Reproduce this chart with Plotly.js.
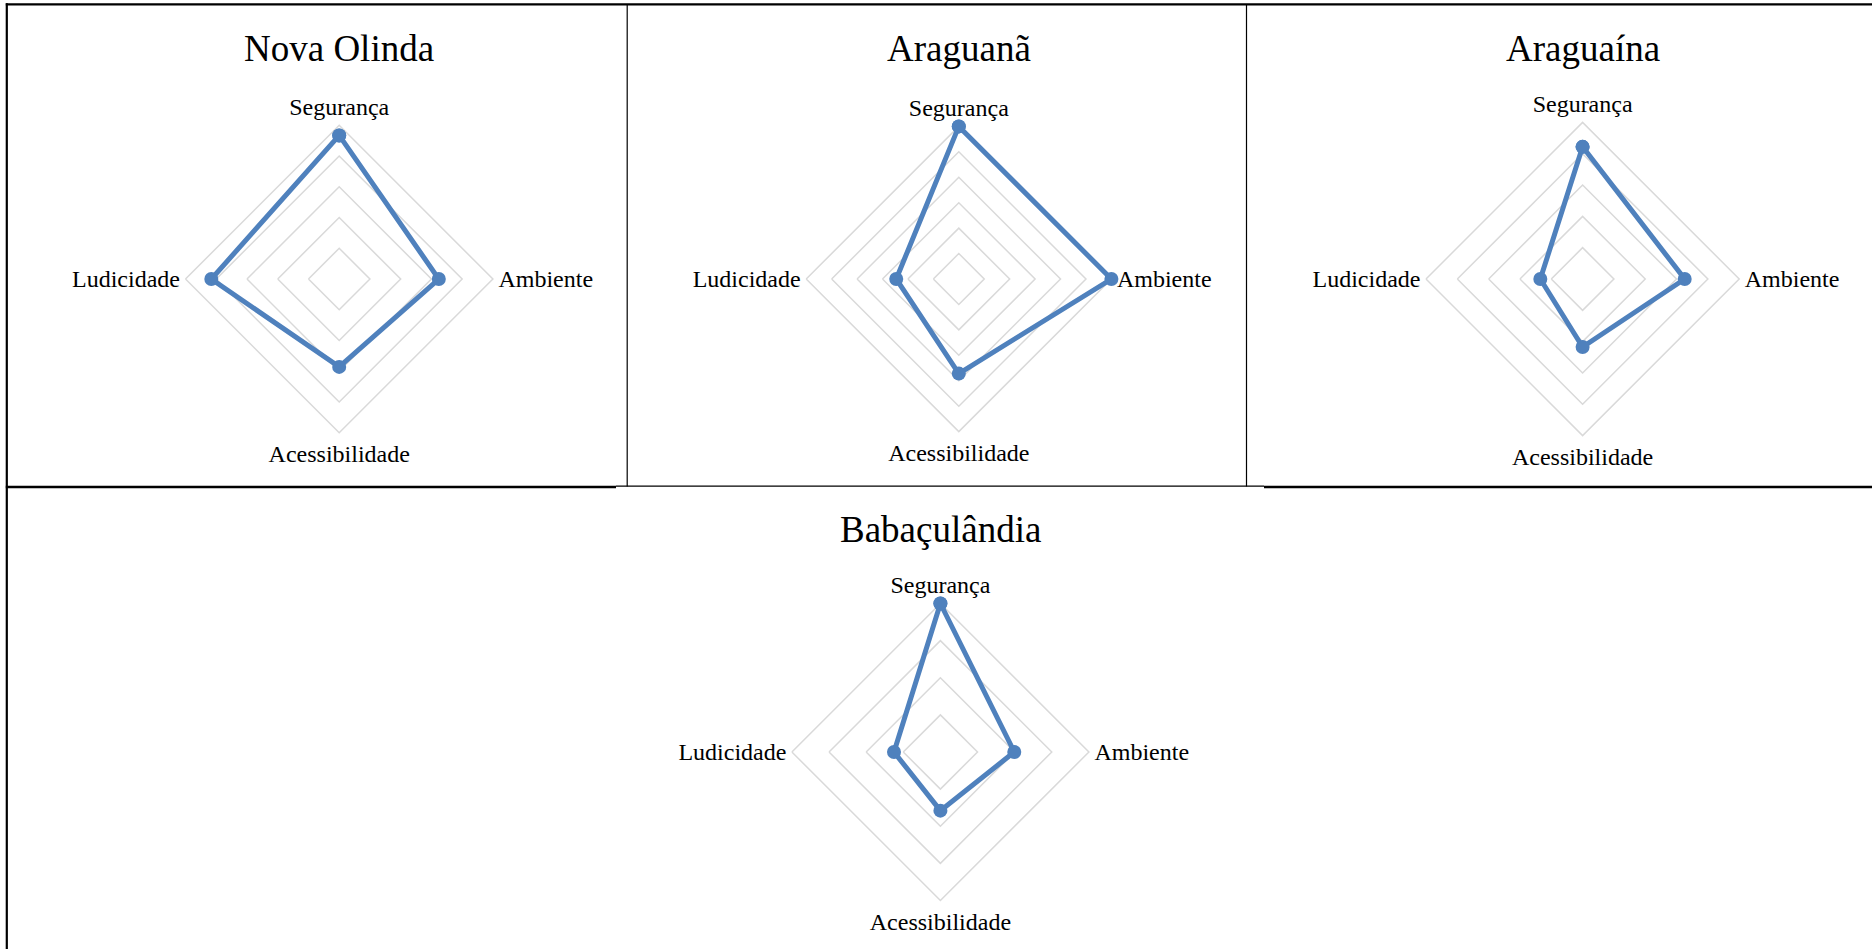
<!DOCTYPE html>
<html>
<head>
<meta charset="utf-8">
<script src="https://cdn.plot.ly/plotly-3.0.1.min.js"></script>
<style>
  body { margin: 0; background: #fff; }
  #chart { width: 1872px; height: 949px; }
</style>
</head>
<body>
<div id="chart"></div>
<script>
const categories = ['Segurança', 'Ambiente', 'Acessibilidade', 'Ludicidade'];

const cityNames = ['Nova Olinda', 'Araguanã', 'Araguaína', 'Babaçulândia'];
const novaOlinda = [4.67, 3.24, 2.86, 4.16];
const araguana = [6.0, 6.0, 3.72, 2.46];
const araguaina = [4.22, 3.26, 2.17, 1.35];
const babaculandia = [4.0, 1.99, 1.58, 1.25];
const axisMax = [5, 6, 5, 4];

const W = 1872, H = 949;
const blue = '#4f81bd';
const serif = 'Liberation Serif, Times New Roman, serif';

// where each little radar sits (pixel centre + outer radius)
const panels = [
    { cx: 339.2, cy: 279, r: 153.7 },
    { cx: 958.8, cy: 279, r: 152.6 },
    { cx: 1582.6, cy: 279, r: 156.6 },
    { cx: 940.4, cy: 752, r: 148.5 }
];
const titleY = [48, 48, 48, 529.5];

const px = x => x / W;
const py = y => 1 - y / H;

function domainFor(p) {
    return {
        x: [px(p.cx - p.r), px(p.cx + p.r)],
        y: [py(p.cy + p.r), py(p.cy - p.r)]
    };
}

const series = [novaOlinda, araguana, araguaina, babaculandia];

const data = series.map((vals, i) => ({
    type: 'scatterpolar',
    r: vals.concat([vals[0]]),
    theta: categories.concat([categories[0]]),
    mode: 'lines+markers',
    cliponaxis: false,
    line: { color: blue, width: 5 },
    marker: { color: blue, size: 14 },
    subplot: i === 0 ? 'polar' : 'polar' + (i + 1),
    showlegend: false,
    hoverinfo: 'skip'
}));

const layout = {
    width: W,
    height: H,
    margin: { l: 0, r: 0, t: 0, b: 0 },
    paper_bgcolor: '#fff',
    showlegend: false,
    annotations: [],
    shapes: []
};

panels.forEach((p, i) => {
    const key = i === 0 ? 'polar' : 'polar' + (i + 1);
    layout[key] = {
        domain: domainFor(p),
        gridshape: 'linear',
        bgcolor: 'rgba(0,0,0,0)',
        radialaxis: {
            range: [0, axisMax[i]],
            dtick: 1,
            showticklabels: false,
            ticks: '',
            showline: false,
            layer: 'below traces',
            gridcolor: '#d9d9d9',
            gridwidth: 1.5
        },
        angularaxis: {
            type: 'category',
            categoryarray: categories,
            direction: 'clockwise',
            rotation: 90,
            showgrid: false,
            showline: true,
            layer: 'below traces',
            linecolor: '#d9d9d9',
            linewidth: 1.5,
            ticks: '',
            tickfont: { family: serif, size: 24, color: '#000' }
        }
    };
    layout.annotations.push({
        text: cityNames[i],
        xref: 'paper', yref: 'paper',
        x: px(p.cx), y: py(titleY[i]),
        xanchor: 'center', yanchor: 'middle',
        showarrow: false,
        font: { family: serif, size: 37, color: '#000' }
    });
});

// table borders
function hline(x0, x1, y, w) {
    layout.shapes.push({ type: 'line', xref: 'paper', yref: 'paper',
        x0: px(x0), x1: px(x1), y0: py(y), y1: py(y), line: { color: '#000', width: w } });
}
function vline(x, y0, y1, w) {
    layout.shapes.push({ type: 'line', xref: 'paper', yref: 'paper',
        x0: px(x), x1: px(x), y0: py(y0), y1: py(y1), line: { color: '#000', width: w } });
}
hline(5.8, W, 4.3, 2.2);
vline(6.8, 3.2, H, 2.2);
vline(627.2, 4.3, 486.5, 1.2);
vline(1246.5, 4.3, 486.5, 1.2);
hline(5.8, 616, 487, 2.3);
hline(616, 1264, 486.2, 1.2);
hline(1264, W, 487, 2.3);

Plotly.newPlot('chart', data, layout, { staticPlot: true }).then(gd => {
    // values sitting on the outer ring get half cut off by the polar clip path
    gd.querySelectorAll('.polarlayer .frontplot, .polarlayer .frontplot *').forEach(el => {
        el.removeAttribute('clip-path');
    });
});
</script>
</body>
</html>
